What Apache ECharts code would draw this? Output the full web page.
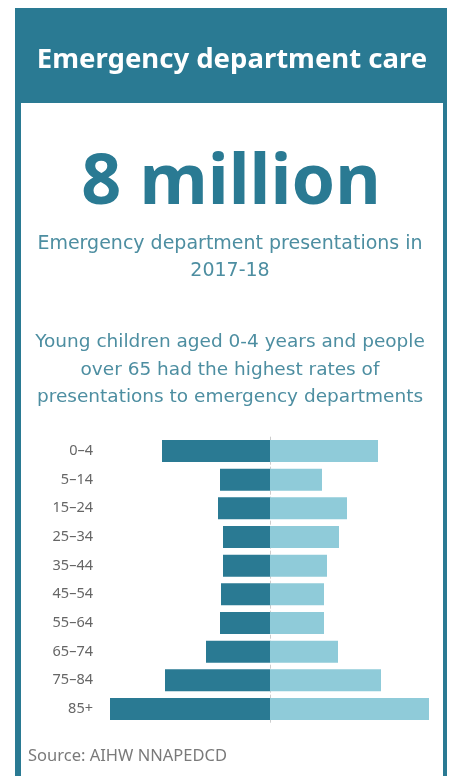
<!DOCTYPE html>
<html>
<head>
<meta charset="utf-8">
<script src="https://cdn.jsdelivr.net/npm/echarts@6/dist/echarts.min.js"></script>
<style>
html,body{margin:0;padding:0;background:#fff;}
#chart{width:455px;height:776px;}
</style>
</head>
<body>
<div id="chart"></div>
<script>
// Data (rates, arbitrary units)
const ageGroups = ['0–4','5–14','15–24','25–34','35–44','45–54','55–64','65–74','75–84','85+'];
const leftValues = [108, 50, 52, 47, 47, 49, 50, 64, 105, 160];
const rightValues = [108, 52, 77, 69, 57, 54, 54, 68, 111, 159];

const TEAL = '#2a7a93';
const LIGHT = '#8fcbd9';
const FONT = '"Noto Sans", "Open Sans", sans-serif';
const FONT2 = '"DejaVu Sans", "Noto Sans", sans-serif';

const chart = echarts.init(document.getElementById('chart'));
chart.setOption({
  animation: false,
  backgroundColor: '#ffffff',
  graphic: {
    z: -10,
    elements: [
      { type: 'rect', z: 0, shape: { x: 15, y: 8, width: 432, height: 790 }, style: { fill: TEAL } },
      { type: 'rect', z: 1, shape: { x: 21, y: 103, width: 422, height: 700 }, style: { fill: '#ffffff' } },
      { type: 'text', z: 2, x: 232, y: 60, style: { text: 'Emergency department care', fill: '#ffffff', font: 'bold 27.5px ' + FONT, textAlign: 'center', textVerticalAlign: 'middle' } },
      { type: 'text', z: 2, x: 231, y: 184, style: { text: '8 million', fill: TEAL, font: 'bold 70px ' + FONT, textAlign: 'center', textVerticalAlign: 'middle' } },
      { type: 'text', z: 2, x: 230, y: 258, style: { text: 'Emergency department presentations in\n2017-18', fill: '#4d8ea1', font: '19px ' + FONT2, lineHeight: 27, textAlign: 'center', textVerticalAlign: 'middle' } },
      { type: 'text', z: 2, x: 230, y: 370, style: { text: 'Young children aged 0-4 years and people\nover 65 had the highest rates of\npresentations to emergency departments', fill: '#4d8ea1', font: '18.5px ' + FONT2, lineHeight: 27.5, textAlign: 'center', textVerticalAlign: 'middle' } },
      { type: 'text', z: 2, x: 28, y: 756, style: { text: 'Source: AIHW NNAPEDCD', fill: '#7a7a7a', font: '16.5px ' + FONT, textAlign: 'left', textVerticalAlign: 'middle' } }
    ]
  },
  grid: { left: 110, right: 25, top: 436.7, bottom: 52.7, containLabel: false },
  xAxis: {
    type: 'value', min: -160, max: 160,
    axisLine: { show: false }, axisTick: { show: false }, axisLabel: { show: false }, splitLine: { show: false }
  },
  yAxis: {
    type: 'category', data: ageGroups, inverse: true, z: 10,
    axisLine: { show: false }, axisTick: { show: false }, splitLine: { show: false },
    axisLabel: { margin: 17, color: '#666666', fontSize: 14.5, fontFamily: FONT }
  },
  series: [
    {
      type: 'bar', stack: 'a', barWidth: 22, z: 3,
      data: leftValues.map(v => -v),
      itemStyle: { color: TEAL },
      markLine: {
        silent: true, symbol: 'none', label: { show: false },
        lineStyle: { color: '#cccccc', type: 'dashed', width: 1 },
        data: [{ xAxis: 0 }], z: 1
      }
    },
    {
      type: 'bar', stack: 'a', barWidth: 22, z: 3,
      data: rightValues,
      itemStyle: { color: LIGHT }
    }
  ]
});
</script>
</body>
</html>
